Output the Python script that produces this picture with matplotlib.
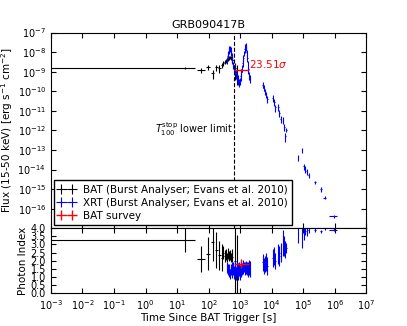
import numpy as np
import matplotlib
matplotlib.use('Agg')
import matplotlib.pyplot as plt

# BAT (Burst Analyser) points: time, time errors, flux, flux error, photon index
bat_t = [18, 58, 95, 134, 174, 220, 260, 295, 325, 355, 385, 415, 445, 475, 505, 535, 565, 700, 780]
bat_tlo = [18, 14, 12, 14, 16, 18, 18, 15, 15, 15, 15, 15, 15, 15, 15, 15, 15, 40, 40]
bat_thi = [20, 20, 15, 16, 18, 20, 18, 15, 15, 15, 15, 15, 15, 15, 15, 15, 15, 40, 40]
bat_f = [1.55e-9, 1.2e-9, 1.7e-9, 8.5e-10, 1.7e-9, 1.5e-9, 2.2e-9, 2.8e-9, 3.2e-9, 3.7e-9,
         4.3e-9, 4.6e-9, 5.0e-9, 5.5e-9, 5.2e-9, 4.6e-9, 4.2e-9, 1.6e-9, 1.2e-9]
bat_ferr = [0.2e-9, 0.3e-9, 0.5e-9, 0.4e-9, 0.6e-9, 0.6e-9, 0.7e-9, 0.8e-9, 0.8e-9, 0.9e-9,
            1.0e-9, 1.0e-9, 1.1e-9, 1.1e-9, 1.1e-9, 1.0e-9, 1.0e-9, 1.2e-9, 1.0e-9]
bat_pi = [3.26, 2.13, 2.44, 3.16, 2.65, 2.34, 2.2, 2.5, 2.3, 2.4, 2.2, 2.45, 2.3, 2.35, 2.2, 2.4, 2.25, 2.0, 1.6]
bat_pierr = [0.75, 0.8, 1.0, 1.2, 1.1, 0.9, 0.8, 0.4, 0.35, 0.35, 0.3, 0.35, 0.3, 0.3, 0.3, 0.3, 0.35, 2.2, 2.0]

# XRT (Burst Analyser) points
xrt_t = [380, 400, 420, 440, 460, 480, 500, 520, 545, 570, 600, 630, 665, 700, 740, 785, 830, 880, 935, 990,
         1050, 1100, 1150, 1200, 1260, 1320, 1380, 1440, 1500, 1560, 1620, 1690, 1760, 1840, 1920, 2010,
         5300, 5700, 6100, 6600, 7200, 11000, 12000, 13000, 16000, 17500, 19500, 23000, 25000, 27000, 29500,
         68000, 91000, 103000, 115000, 130000, 148000, 240000, 360000, 475000, 930000]
xrt_terr = [10, 10, 10, 10, 10, 10, 10, 10, 12, 12, 15, 15, 18, 18, 20, 22, 22, 25, 28, 28,
            30, 25, 25, 25, 28, 30, 30, 30, 30, 30, 30, 35, 35, 40, 40, 45,
            200, 200, 200, 250, 300, 400, 400, 500, 500, 600, 600, 700, 700, 800, 800,
            2000, 2000, 2500, 3000, 4000, 5000, 20000, 20000, 60000, 270000]
xrt_f = [4.0e-9, 6.5e-9, 9.0e-9, 1.2e-8, 1.45e-8, 1.5e-8, 1.3e-8, 1.0e-8, 6.5e-9, 4.0e-9, 2.2e-9, 1.5e-9,
         1.8e-9, 1.1e-9, 8.0e-10, 6.0e-10, 4.5e-10, 3.5e-10, 3.0e-10, 3.5e-10,
         6e-10, 1.0e-9, 1.6e-9, 2.8e-9, 5e-9, 9e-9, 1.4e-8, 2e-8, 2.3e-8, 1.7e-8, 1.0e-8, 5e-9, 2.6e-9,
         1.3e-9, 7e-10, 4.5e-10,
         2.2e-10, 1.5e-10, 1.0e-10, 7e-11, 4e-11, 4.5e-11, 3e-11, 1.5e-11, 1.6e-11, 8e-12, 4e-12,
         3.5e-12, 1.5e-12, 5e-13, 1.1e-12,
         4e-14, 1e-13, 1.5e-14, 1.1e-14, 8e-15, 5e-15, 2.3e-15, 1.0e-15, 3.6e-16, 4.2e-17]
xrt_ferr = [1.5e-9, 2.0e-9, 3.0e-9, 4e-9, 5e-9, 5e-9, 4.5e-9, 3.5e-9, 2.5e-9, 1.5e-9, 8e-10, 6e-10,
            7e-10, 4.5e-10, 3.5e-10, 2.5e-10, 2e-10, 1.5e-10, 1.3e-10, 1.5e-10,
            2.5e-10, 4e-10, 6e-10, 1e-9, 1.8e-9, 3e-9, 5e-9, 7e-9, 8e-9, 6e-9, 3.5e-9, 1.8e-9, 1e-9,
            5e-10, 3e-10, 2e-10,
            8e-11, 5e-11, 3.5e-11, 2.5e-11, 1.5e-11, 1.8e-11, 1.2e-11, 6e-12, 6e-12, 3e-12, 1.6e-12,
            1.4e-12, 6e-13, 2.5e-13, 3e-13,
            1.3e-14, 3e-14, 5e-15, 4e-15, 2.5e-15, 1.5e-15, 4e-16, 2.5e-16, 6e-17, 8e-18]
xrt_pi = [1.6, 1.4, 1.5, 1.3, 1.5, 1.2, 1.4, 1.5, 1.3, 1.6, 1.5, 1.3, 1.6, 1.4, 1.2, 1.5, 1.3, 1.4, 1.5, 1.3,
          1.6, 1.4, 1.5, 1.7, 1.5, 1.6, 1.4, 1.6, 1.5, 1.7, 1.5, 1.6, 1.4, 1.5, 1.6, 1.5,
          1.9, 1.7, 1.8, 1.9, 1.7, 2.2, 2.3, 2.0, 2.4, 2.3, 2.5, 3.1, 2.9, 2.7, 2.8,
          3.6, 3.4, 3.8, 3.9, 3.8, 3.9, 3.9, 3.8, 4.2, 3.9]
xrt_pierr = [0.35, 0.3, 0.3, 0.3, 0.3, 0.3, 0.3, 0.3, 0.35, 0.35, 0.4, 0.4, 0.4, 0.4, 0.4, 0.45, 0.45, 0.45,
             0.45, 0.45, 0.4, 0.4, 0.35, 0.35, 0.3, 0.3, 0.3, 0.3, 0.3, 0.3, 0.35, 0.35, 0.4, 0.4, 0.45, 0.5,
             0.5, 0.5, 0.5, 0.55, 0.55, 0.55, 0.55, 0.5, 0.6, 0.6, 0.6, 0.8, 0.6, 0.5, 0.3,
             0.5, 0.6, 0.5, 0.3, 0.3, 0.2, 0.15, 0.1, 0.3, 0.1]

# BAT survey
srv_t = [1070]
srv_tlo = [450]
srv_thi = [790]
srv_f = [1.25e-9]
srv_ferr = [0.15e-9]
srv_pi = [1.78]
srv_pilo = [0.25]
srv_pihi = [0.35]
srv_sig = 23.51

t100_stop = 620

plt.rcParams['font.size'] = 7
plt.rcParams['xtick.direction'] = 'in'
plt.rcParams['ytick.direction'] = 'in'
plt.rcParams['xtick.top'] = True
plt.rcParams['ytick.right'] = True

fig = plt.figure(figsize=(4.07, 3.26), dpi=100)
ax = fig.add_axes([0.125, 0.3, 0.775, 0.6])
ax2 = fig.add_axes([0.125, 0.1, 0.775, 0.2], sharex=ax)

ax.errorbar(bat_t, bat_f, xerr=[bat_tlo, bat_thi], yerr=bat_ferr, fmt='none',
            ecolor='k', elinewidth=0.8, label='BAT (Burst Analyser; Evans et al. 2010)')
ax.errorbar(xrt_t, xrt_f, xerr=xrt_terr, yerr=xrt_ferr, fmt='none',
            ecolor='b', elinewidth=0.8, label='XRT (Burst Analyser; Evans et al. 2010)')
ax.errorbar(srv_t, srv_f, xerr=[srv_tlo, srv_thi], yerr=srv_ferr, fmt='none',
            ecolor='r', elinewidth=1.0, label='BAT survey')
ax.text(srv_t[0] + srv_thi[0] + 80, 2.6e-9, '%.2f$\\sigma$' % srv_sig, color='r',
        va='center', ha='left', fontsize=7.5)
ax.axvline(t100_stop, color='k', ls='--', lw=0.8)
ax.text(t100_stop * 0.93, 1.2e-12, '$T_{100}^{\\rm stop}$ lower limit', ha='right', va='center',
        fontsize=7)

ax.set_xscale('log')
ax.set_yscale('log')
ax.set_xlim(1e-3, 1e7)
ax.set_ylim(1e-17, 1e-7)
ax.set_yticks([10.0 ** k for k in range(-16, -6)])
ax.tick_params(axis='y', which='minor', left=False, right=False)
ax.tick_params(labelbottom=False)
ax.set_ylabel('Flux (15-50 keV) [erg s$^{-1}$ cm$^{-2}$]', fontsize=7.5, labelpad=2)
ax.set_title('GRB090417B', fontsize=8, pad=3)
ax.legend(loc='lower left', numpoints=2, fontsize=7.5, fancybox=False, edgecolor='k',
          framealpha=1, borderaxespad=0.3, handlelength=1.6, labelspacing=0.3)

ax2.errorbar(bat_t, bat_pi, xerr=[bat_tlo, bat_thi], yerr=bat_pierr, fmt='none',
             ecolor='k', elinewidth=0.8)
ax2.errorbar(xrt_t, xrt_pi, xerr=xrt_terr, yerr=xrt_pierr, fmt='none',
             ecolor='b', elinewidth=0.8)
ax2.errorbar(srv_t, srv_pi, xerr=[srv_tlo, srv_thi], yerr=[srv_pilo, srv_pihi], fmt='none',
             ecolor='r', elinewidth=1.0)
ax2.set_ylim(0, 4)
ax2.set_yticks(np.arange(0, 4.01, 0.5))
ax2.set_xticks([10.0 ** k for k in range(-3, 8)])
ax2.set_ylabel('Photon Index', fontsize=7.5, labelpad=2)
ax2.set_xlabel('Time Since BAT Trigger [s]', fontsize=7.5, labelpad=1)

fig.savefig('out.png', dpi=100)
